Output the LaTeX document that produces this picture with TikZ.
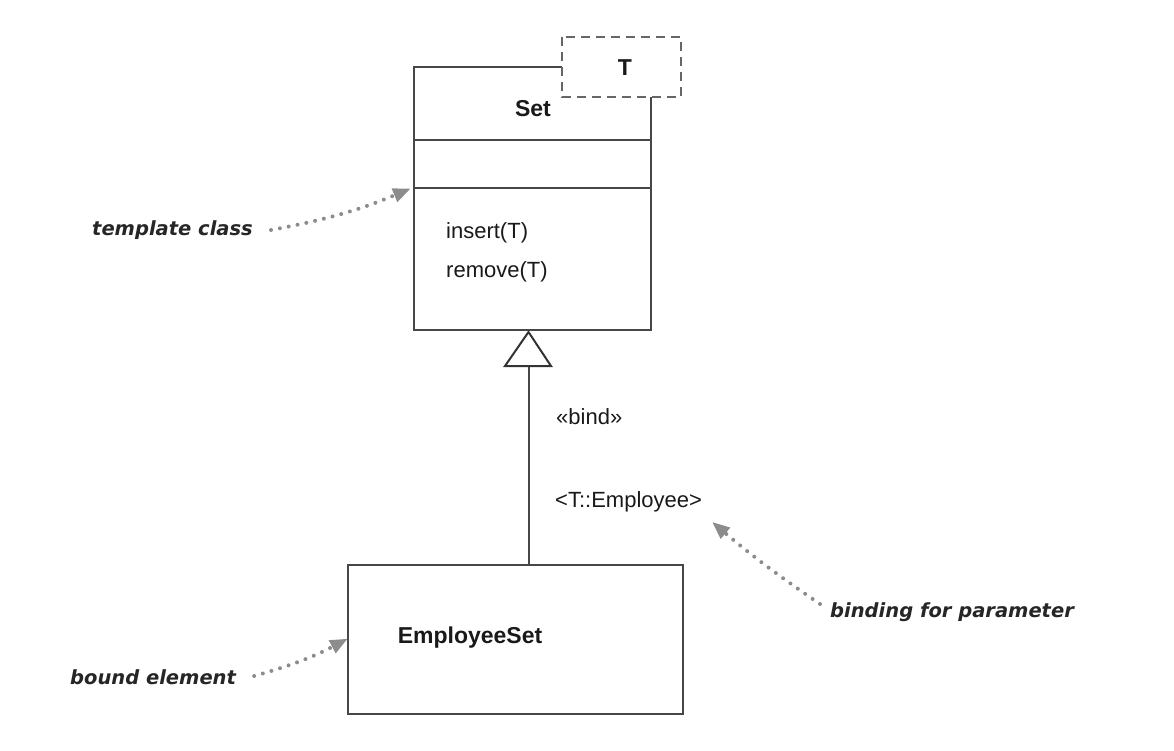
\documentclass[tikz,border=0pt]{standalone}
\usepackage{fontspec}
\setmainfont{Liberation Sans}
\newfontfamily\notefont{DejaVu Sans}
\usetikzlibrary{arrows.meta}
\begin{document}
\begin{tikzpicture}[x=1pt,y=-1pt,
  umlline/.style={draw=black!72, line width=2pt},
  umltext/.style={font=\fontsize{22}{26}\selectfont, text=black!90, inner sep=0pt},
  umlbold/.style={umltext, font=\bfseries\fontsize{23}{26}\selectfont},
  notetext/.style={font=\notefont\itshape\bfseries\fontsize{19.5}{23}\selectfont, text=black!85, inner sep=0pt},
  notearrow/.style={draw=black!45, line width=4pt, line cap=round,
    dash pattern=on 0pt off 9pt, -{Triangle[length=17pt,width=15pt,fill=black!45,line width=0pt]}, shorten >=2pt},
  ]
\useasboundingbox (0,0) rectangle (1174,751);

% template class Set with its parameter box
\draw[umlline] (562,67) -- (414,67) -- (414,330) -- (651,330) -- (651,97);
\draw[umlline] (414,140) -- (651,140);
\draw[umlline] (414,188) -- (651,188);
\draw[draw=black!60, line width=2.2pt, dash pattern=on 9pt off 6pt] (562,37) rectangle (681,97);
\node[umlbold] (param) at (625,68) {T};
\node[umlbold] (setname) at (533,109) {Set};
\node[umltext, anchor=west] (op1) at (446,233) {insert(T)};
\node[umltext, anchor=west] (op2) at (446,272) {remove(T)};

% bound element
\node[umlline, minimum width=335pt, minimum height=149pt, inner sep=0pt] (emp) at (515.5,639.5) {};
\node[umlbold] (empname) at (470,638) {EmployeeSet};

% binding realization with hollow triangle
\coordinate (tip) at (528.5,332);
\draw[umlline] (emp.north -| tip) -- (528.5,366);
\draw[draw=black!80, line width=2pt, fill=white, line join=miter] (tip) -- (551,366) -- (505,366) -- cycle;

\node[umltext, anchor=west] (bind) at (556,417) {«bind»};
\node[umltext, anchor=west] (args) at (555,502) {<T::Employee>};

% annotations
\node[notetext, anchor=west] (n1) at (92,230) {template class};
\node[notetext, anchor=west] (n2) at (70,677) {bound element};
\node[notetext, anchor=west] (n3) at (830,612) {binding for parameter};
\coordinate (a1) at (412,188);
\coordinate (a2) at (349,638);
\coordinate (a3) at (711,521);
\draw[notearrow] (n1.east) ++(18,0) to[bend right=6] (a1);
\draw[notearrow] (n2.east) ++(18,-1) to[bend right=6] (a2);
\draw[notearrow] (n3.west) ++(-10,-8) to[bend left=3] (a3);
\end{tikzpicture}
\end{document}
